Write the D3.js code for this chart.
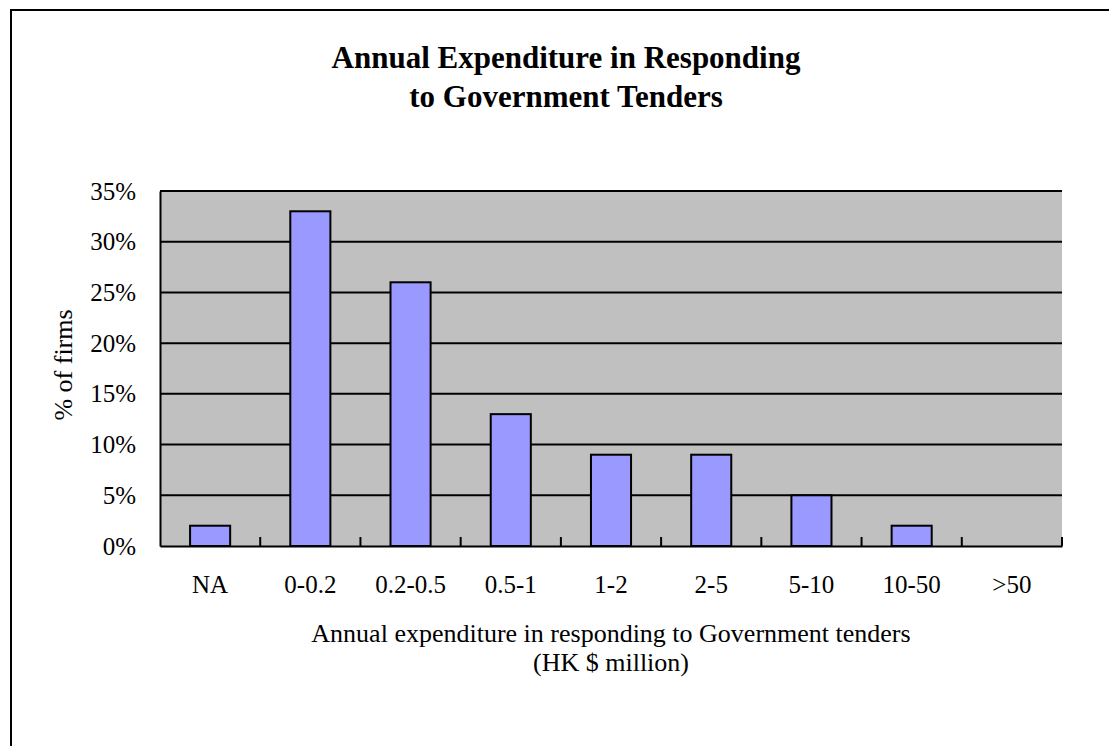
<!DOCTYPE html>
<html><head><meta charset="utf-8">
<script src="https://cdn.jsdelivr.net/npm/d3@7"></script>
<style>html,body{margin:0;padding:0;background:#fff;}svg{display:block;}</style>
</head><body>
<svg id="chart" width="1109" height="746"></svg>
<script>
const categories = ["NA","0-0.2","0.2-0.5","0.5-1","1-2","2-5","5-10","10-50",">50"];
const values = [0.02,0.33,0.26,0.13,0.09,0.09,0.05,0.02,0];
const yTicks = [0,0.05,0.10,0.15,0.20,0.25,0.30,0.35];
const titleLines = ["Annual Expenditure in Responding","to Government Tenders"];
const xTitleLines = ["Annual expenditure in responding to Government tenders","(HK $ million)"];
const yTitle = "% of firms";

const svg = d3.select("#chart");
const font = "'Liberation Serif','Times New Roman',Times,serif";
const L=160, R=1062, T=191, B=546;
const fs = 25;

// outer frame
svg.append("path").attr("d","M11,746V10H1109").attr("fill","none").attr("stroke","#000").attr("stroke-width",2);

const x = d3.scaleBand().domain(categories).range([L,R]).padding(0);
const y = d3.scaleLinear().domain([0,0.35]).range([B,T]);

svg.append("rect").attr("x",L).attr("y",T).attr("width",R-L).attr("height",B-T).attr("fill","#C0C0C0");

// gridlines
svg.append("g").selectAll("line").data(yTicks.filter(d=>d>0)).join("line")
  .attr("x1",L).attr("x2",R).attr("y1",d=>y(d)).attr("y2",d=>y(d))
  .attr("stroke","#000").attr("stroke-width",2);

// bars
const bw = x.bandwidth()*0.4;
svg.append("g").selectAll("rect").data(categories.map((c,i)=>({c,v:values[i]})).filter(d=>d.v>0)).join("rect")
  .attr("x",d=>x(d.c)+x.bandwidth()/2-bw/2).attr("width",bw)
  .attr("y",d=>y(d.v)).attr("height",d=>y(0)-y(d.v))
  .attr("fill","#9999FF").attr("stroke","#000").attr("stroke-width",2);

// y axis
const yAxis = d3.axisLeft(y).tickValues(yTicks).tickFormat(d3.format(".0%")).tickSize(0).tickPadding(24);
const gy = svg.append("g").attr("transform",`translate(${L},0)`).call(yAxis);
gy.select(".domain").attr("stroke","#000").attr("stroke-width",2);
gy.selectAll("text").attr("font-family",font).attr("font-size",fs).attr("fill","#000");

// x axis
const xAxis = d3.axisBottom(x).tickSize(0).tickPadding(29);
const gx = svg.append("g").attr("transform",`translate(0,${B})`).call(xAxis);
gx.select(".domain").attr("stroke","#000").attr("stroke-width",2);
gx.selectAll("text").attr("font-family",font).attr("font-size",fs).attr("fill","#000");
// inside tick marks at category boundaries
const bounds = categories.map(c=>x(c)).slice(1).concat([R]);
svg.append("g").selectAll("line").data(bounds).join("line")
  .attr("x1",d=>d).attr("x2",d=>d).attr("y1",B-9).attr("y2",B)
  .attr("stroke","#000").attr("stroke-width",2);

// title
svg.append("g").selectAll("text").data(titleLines).join("text")
  .attr("x",566).attr("y",(d,i)=>68+i*39).attr("text-anchor","middle")
  .attr("font-family",font).attr("font-weight","bold").attr("font-size",31).text(d=>d);

// x title
svg.append("g").selectAll("text").data(xTitleLines).join("text")
  .attr("x",611).attr("y",(d,i)=>642+i*29).attr("text-anchor","middle")
  .attr("font-family",font).attr("font-size",26).text(d=>d);

// y title
svg.append("text").attr("transform",`translate(72,365) rotate(-90)`)
  .attr("text-anchor","middle").attr("font-family",font).attr("font-size",26).text(yTitle);
</script>
</body></html>
